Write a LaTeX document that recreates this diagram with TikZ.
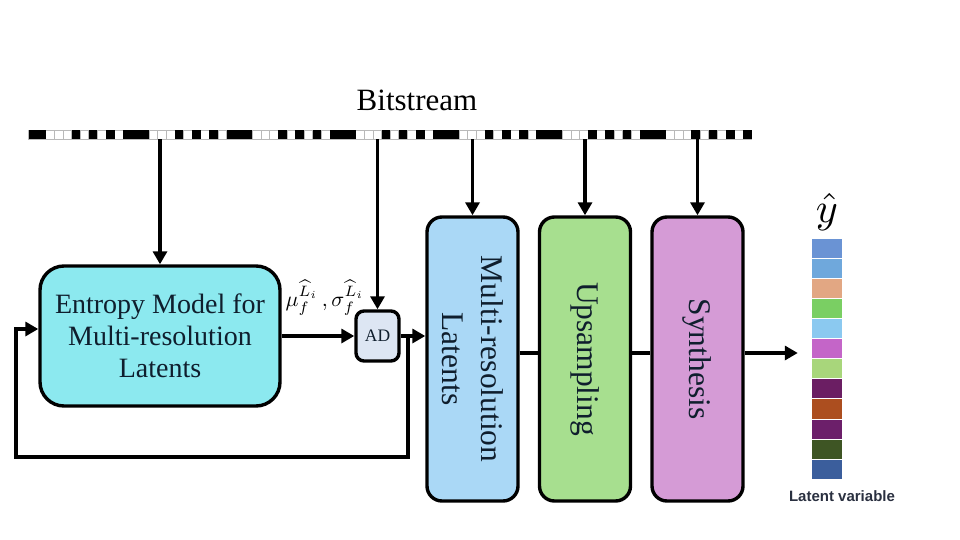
\documentclass[tikz,border=0pt]{standalone}
\usepackage{fontspec}
\setmainfont{Liberation Serif}
\newfontfamily\labelsans{Liberation Sans}
\usetikzlibrary{arrows.meta,positioning}

\definecolor{entcol}{HTML}{8CE9EF}
\definecolor{adcol}{HTML}{DDE6F3}
\definecolor{mrlcol}{HTML}{AAD8F6}
\definecolor{upcol}{HTML}{A7DF8F}
\definecolor{syncol}{HTML}{D59BD6}
\definecolor{txtcol}{HTML}{0F1E2D}
\definecolor{labcol}{HTML}{2A3040}
\definecolor{latA}{HTML}{6A93D4}
\definecolor{latB}{HTML}{6FA8DC}
\definecolor{latC}{HTML}{E2A783}
\definecolor{latD}{HTML}{7ACF63}
\definecolor{latE}{HTML}{8BC9F0}
\definecolor{latF}{HTML}{C465C8}
\definecolor{latG}{HTML}{A8D67B}
\definecolor{latH}{HTML}{6B1E63}
\definecolor{latI}{HTML}{AC4E1F}
\definecolor{latJ}{HTML}{6C1F6A}
\definecolor{latK}{HTML}{3E5524}
\definecolor{latL}{HTML}{3B5E9C}

\tikzset{
    block/.style={draw=black, line width=3.4pt, inner sep=0pt},
    tallblock/.style={block, rounded corners=15, minimum width=91, minimum height=284},
    arr/.style={line width=3.6pt, -{Triangle[width=14pt,length=13pt]}},
    link/.style={line width=3.6pt},
    boxtext/.style={text=txtcol, align=center, font=\fontsize{31.5}{39}\selectfont}
}

\begin{document}
\begin{tikzpicture}[x=1pt, y=-1pt]

            % the frame
            \useasboundingbox (0,0) rectangle (960,540);

            % the bitstream
            \foreach \i in {0,...,83} {
                \draw[gray!55, fill=white, line width=0.6pt] ({28.5+8.61*\i}, 130) rectangle ++(8.61, 9);
            };
            \foreach \p in {0,...,6} {
                \foreach \j in {0,1,5,7,9,11} {
                    \fill[black] ({28.5+8.61*(12*\p+\j)}, 130) rectangle ++(8.61, 9);
                };
            };
            \node[inner sep=0pt, minimum width=723.2, minimum height=9] (strip) at (390.1, 134.5) {};
            \node[anchor=base, font=\fontsize{31}{37}\selectfont] (bits) at (417, 111) {Bitstream};

            % the blocks
            \node[block, fill=entcol, rounded corners=24, minimum width=240, minimum height=140,
                  text=txtcol, align=center, font=\fontsize{28}{32}\selectfont] (ent) at (160, 336)
                  {Entropy Model for\\Multi-resolution\\Latents};
            \node[block, fill=adcol, rounded corners=8, minimum width=43, minimum height=50,
                  text=txtcol, font=\fontsize{17.5}{20}\selectfont] (ad) at (377.5, 336) {AD};
            \node[tallblock, fill=mrlcol] (mrl) at (472.5, 359) {};
            \node[tallblock, fill=upcol] (up) at (585, 359) {};
            \node[tallblock, fill=syncol] (syn) at (697.5, 359) {};
            \node[boxtext, rotate=-90] (mrltext) at (mrl) {Multi-resolution\\Latents};
            \node[boxtext, rotate=-90] (uptext) at (up) {Upsampling};
            \node[boxtext, rotate=-90] (syntext) at (syn) {Synthesis};

            % the latent
            \foreach \c [count=\k from 0] in {latA,latB,latC,latD,latE,latF,latG,latH,latI,latJ,latK,latL} {
                \fill[\c, draw=white, line width=0.8pt] (811, {238+20.1*\k}) rectangle ++(31, 20.1);
            };
            \node[inner sep=0pt, minimum width=31, minimum height=241.2] (lat) at (826.5, 358.6) {};
            \node[scale=4.2, inner sep=0.3pt] (yhat) at (827, 212) {$\hat{y}$};
            \node[anchor=base, text=labcol, font=\labelsans\bfseries\fontsize{15}{18}\selectfont] (latlabel) at (842, 501) {Latent variable};

            % parameters
            \node[scale=2.15, inner sep=0.3pt] (params) at (325, 298)
                  {$\mu_f^{\widehat{L}_i}\,,\sigma_f^{\widehat{L}_i}$};

            % connectors
            \draw[arr] (strip.south -| ent.north) -- (ent.north);
            \draw[arr] (strip.south -| ad.north) -- (ad.north);
            \draw[arr] (strip.south -| mrl.north) -- (mrl.north);
            \draw[arr] (strip.south -| up.north) -- (up.north);
            \draw[arr] (strip.south -| syn.north) -- (syn.north);
            \draw[arr] (ent.east) -- (ad.west);
            \draw[arr] (ad.east) -- (ad.east -| mrl.west);
            \coordinate (fb) at (408, 336);
            \coordinate (fbturn) at (16, 457);
            \draw[arr] (fb) |- (fbturn) |- ([yshift=7pt]ent.west);
            \draw[link] ([yshift=6pt]mrl.east) -- ([yshift=6pt]up.west);
            \draw[link] ([yshift=6pt]up.east) -- ([yshift=6pt]syn.west);
            \draw[arr, shorten >=13pt] ([yshift=6pt]syn.east) -- ([yshift=6pt]syn.east -| lat.west);
        \end{tikzpicture}
\end{document}
